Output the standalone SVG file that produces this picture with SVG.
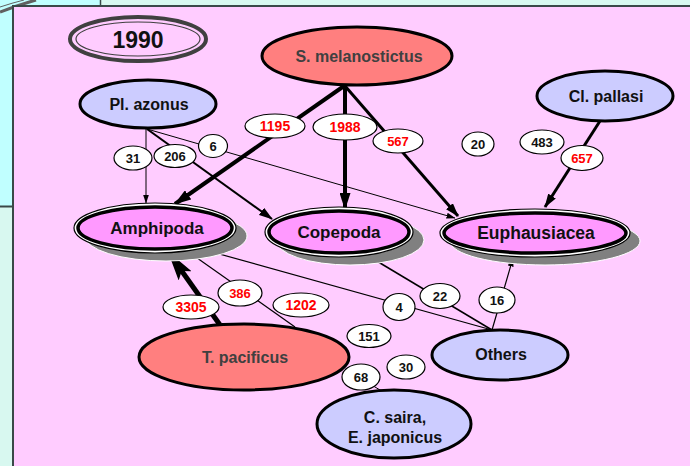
<svg xmlns="http://www.w3.org/2000/svg" width="690" height="466" viewBox="0 0 690 466">
<defs>
<style>
.node text{font-family:"Liberation Sans",Arial,sans-serif;font-weight:bold;text-anchor:middle}
.lbl ellipse{fill:#fff;stroke:#000;stroke-width:1.2}
.lbl text{font-family:"Liberation Sans",Arial,sans-serif;font-weight:bold;font-size:13px;text-anchor:middle;fill:#111}
.lbl text.r{fill:#ff0000}
.lbl text.w{font-size:14px}
.red{fill:#ff7f7f;stroke:#000;stroke-width:3}
.blue{fill:#ccccff;stroke:#000;stroke-width:3}
.sh{fill:#808080;stroke:#fff;stroke-width:1}
.outer{fill:#fff;stroke:#000;stroke-width:1.2}
.inner{fill:#ff99ff;stroke:#000;stroke-width:3.5}
.dark{fill:#404040}
#connectors line{stroke:#000;fill:none}
</style>
<marker id="aBig" markerUnits="userSpaceOnUse" markerWidth="30" markerHeight="16" refX="28" refY="8" orient="auto"><path d="M0,0 L30,8 L0,16 L6,8 Z" fill="#000"/></marker>
<marker id="aThick" markerUnits="userSpaceOnUse" markerWidth="17" markerHeight="11" refX="16" refY="5.5" orient="auto"><path d="M0,0 L17,5.5 L0,11 Z" fill="#000"/></marker>
<marker id="aMed" markerUnits="userSpaceOnUse" markerWidth="14" markerHeight="9" refX="13" refY="4.5" orient="auto"><path d="M0,0 L14,4.5 L0,9 Z" fill="#000"/></marker>
<marker id="aThin" markerUnits="userSpaceOnUse" markerWidth="9" markerHeight="6" refX="8.5" refY="3" orient="auto"><path d="M0,0 L9,3 L0,6 Z" fill="#000"/></marker>
</defs>

<!-- background -->
<rect x="0" y="0" width="690" height="466" fill="#d8f8f0"/>
<rect x="0" y="0" width="100" height="206" fill="#c0ffff"/>
<line x1="0" y1="206.5" x2="13" y2="206.5" stroke="#3a4848" stroke-width="2"/>
<line x1="100.5" y1="0" x2="100.5" y2="6" stroke="#3a4848" stroke-width="1.5"/>
<path d="M0,12 Q18,5 36,0" fill="none" stroke="#606060" stroke-width="3"/>
<path d="M0,7 Q12,3 24,0" fill="none" stroke="#606060" stroke-width="1"/>
<rect x="13" y="6" width="680" height="465" fill="#ffccff" stroke="#3a4848" stroke-width="2"/>

<!-- title -->
<g id="title" class="node">
<ellipse cx="138" cy="39" rx="68" ry="22" fill="none" stroke="#404040" stroke-width="4"/>
<ellipse cx="138" cy="39" rx="62" ry="17" fill="none" stroke="#404040" stroke-width="1.2"/>
<text x="138" y="48" font-size="23" fill="#111">1990</text>
</g>

<!-- connectors -->
<g id="connectors">
<line x1="344" y1="86" x2="175" y2="204" stroke-width="4" marker-end="url(#aThick)"/>
<line x1="345" y1="86" x2="345" y2="209" stroke-width="4" marker-end="url(#aThick)"/>
<line x1="345" y1="86" x2="458" y2="216" stroke-width="3" marker-end="url(#aMed)"/>
<line x1="600" y1="121" x2="545" y2="207" stroke-width="3" marker-end="url(#aMed)"/>
<line x1="146" y1="129" x2="146" y2="203" stroke-width="1" marker-end="url(#aThin)"/>
<line x1="147" y1="129" x2="272" y2="219" stroke-width="2" marker-end="url(#aMed)"/>
<line x1="147" y1="129" x2="455" y2="218" stroke-width="1" marker-end="url(#aThin)"/>
<line x1="220" y1="325" x2="169" y2="253" stroke-width="5" marker-end="url(#aBig)"/>
<line x1="190" y1="253" x2="295" y2="327" stroke-width="1.2"/>
<line x1="205" y1="250" x2="492" y2="330" stroke-width="1.2"/>
<line x1="370" y1="257" x2="492" y2="330" stroke-width="1.5"/>
<line x1="492" y1="330" x2="513" y2="258" stroke-width="1.2" marker-end="url(#aThin)"/>
<line x1="345" y1="369" x2="385" y2="393" stroke-width="1"/>
</g>

<!-- nodes -->
<g id="s-melanostictus" class="node">
<ellipse class="red" cx="357" cy="56" rx="95" ry="29"/>
<text class="dark" x="359" y="62" font-size="16">S. melanostictus</text>
</g>
<g id="pl-azonus" class="node">
<ellipse class="blue" cx="148" cy="104" rx="68" ry="24"/>
<text x="149" y="110" font-size="16" fill="#111">Pl. azonus</text>
</g>
<g id="cl-pallasi" class="node">
<ellipse class="blue" cx="605" cy="96" rx="68" ry="25"/>
<text x="606" y="102" font-size="16" fill="#111">Cl. pallasi</text>
</g>
<g id="amphipoda" class="node">
<ellipse class="sh" cx="166" cy="236" rx="81" ry="25"/>
<ellipse class="outer" cx="155" cy="228" rx="81" ry="25"/>
<ellipse class="inner" cx="155" cy="228" rx="77" ry="21"/>
<text x="157" y="234" font-size="17" fill="#111">Amphipoda</text>
</g>
<g id="copepoda" class="node">
<ellipse class="sh" cx="350" cy="240" rx="74" ry="25"/>
<ellipse class="outer" cx="339" cy="232" rx="74" ry="25"/>
<ellipse class="inner" cx="339" cy="232" rx="70" ry="21"/>
<text x="339" y="238" font-size="17" fill="#111">Copepoda</text>
</g>
<g id="euphausiacea" class="node">
<ellipse class="sh" cx="545" cy="241" rx="95" ry="24"/>
<ellipse class="outer" cx="535" cy="233" rx="95" ry="24"/>
<ellipse class="inner" cx="535" cy="233" rx="91" ry="20"/>
<text x="536" y="239" font-size="17.5" fill="#111">Euphausiacea</text>
</g>
<g id="t-pacificus" class="node">
<ellipse class="red" cx="244" cy="357" rx="105" ry="33"/>
<text class="dark" x="245" y="363" font-size="16">T. pacificus</text>
</g>
<g id="others" class="node">
<ellipse class="blue" cx="500" cy="355" rx="68" ry="25"/>
<text x="501" y="360" font-size="16" fill="#111">Others</text>
</g>
<g id="c-saira" class="node">
<ellipse class="blue" cx="394" cy="424" rx="77" ry="34"/>
<text x="395" y="423" font-size="16" fill="#111">C. saira,</text>
<text x="395" y="443" font-size="16" fill="#111">E. japonicus</text>
</g>

<!-- edge labels -->
<g id="labels" class="lbl">
<ellipse cx="275" cy="126" rx="30" ry="12"/><text class="r w" x="275" y="131">1195</text>
<ellipse cx="345" cy="127" rx="32" ry="13"/><text class="r w" x="345" y="132">1988</text>
<ellipse cx="398" cy="141" rx="25" ry="12"/><text class="r" x="398" y="146">567</text>
<ellipse cx="478" cy="144" rx="16" ry="12"/><text x="478" y="149">20</text>
<ellipse cx="542" cy="142" rx="22" ry="12"/><text x="542" y="147">483</text>
<ellipse cx="582" cy="158" rx="21" ry="12.5"/><text class="r" x="582" y="163">657</text>
<ellipse cx="133" cy="158" rx="19" ry="12"/><text x="133" y="163">31</text>
<ellipse cx="175" cy="156" rx="21" ry="11.5"/><text x="175" y="161">206</text>
<ellipse cx="213" cy="146" rx="14.5" ry="11.5"/><text x="213" y="151">6</text>
<ellipse cx="191" cy="307" rx="28" ry="12"/><text class="r w" x="191" y="312">3305</text>
<ellipse cx="240" cy="293" rx="22" ry="13"/><text class="r" x="240" y="298">386</text>
<ellipse cx="301" cy="305" rx="28" ry="12"/><text class="r w" x="301" y="310">1202</text>
<ellipse cx="399" cy="307" rx="16" ry="13.5"/><text x="399" y="312">4</text>
<ellipse cx="440" cy="296" rx="20" ry="12.5"/><text x="440" y="301">22</text>
<ellipse cx="497" cy="300" rx="18" ry="13"/><text x="497" y="305">16</text>
<ellipse cx="369" cy="336" rx="22" ry="11.5"/><text x="369" y="341">151</text>
<ellipse cx="406" cy="367" rx="19" ry="12"/><text x="406" y="372">30</text>
<ellipse cx="361" cy="377" rx="19" ry="13"/><text x="361" y="382">68</text>
</g>
</svg>
